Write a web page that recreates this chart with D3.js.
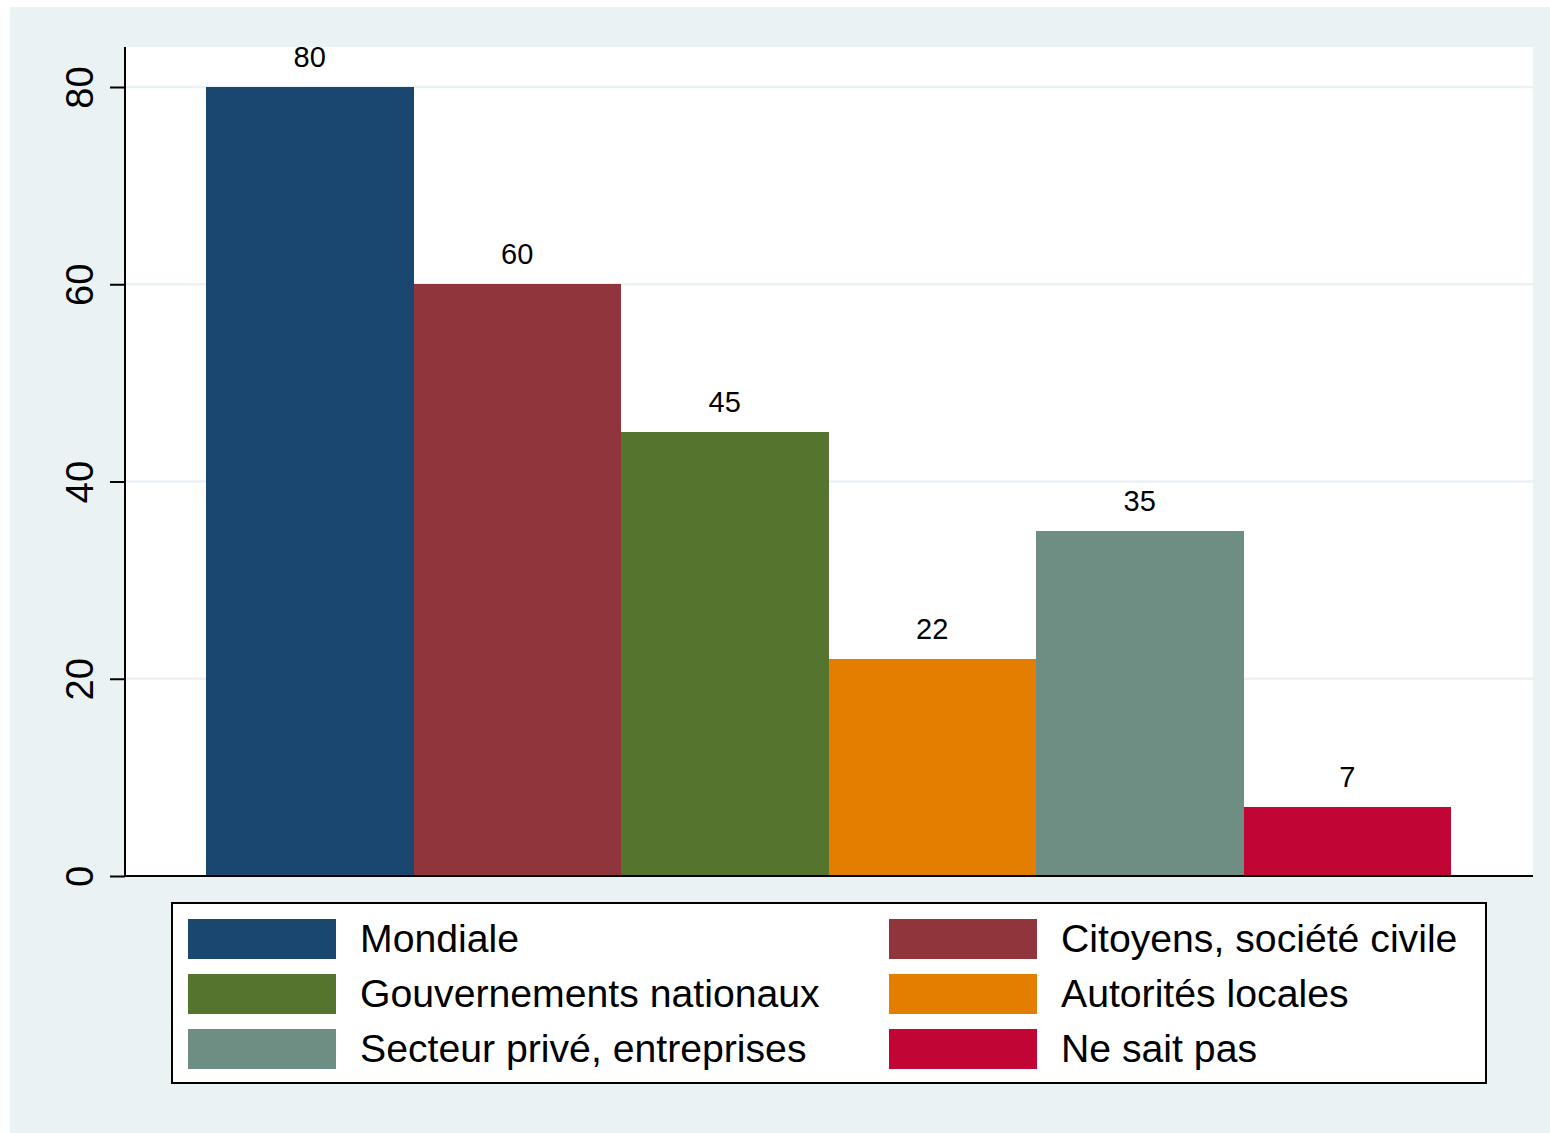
<!DOCTYPE html>
<html>
<head>
<meta charset="utf-8">
<script src="https://cdn.jsdelivr.net/npm/d3@7"></script>
<style>
  html, body { margin: 0; padding: 0; background: #ffffff; }
  svg { display: block; }
  text { font-family: "Liberation Sans", Arial, Helvetica, sans-serif; fill: #000; }
</style>
</head>
<body>
<svg id="chart" width="1550" height="1133"></svg>
<script>
const categories = ["Mondiale", "Citoyens, société civile", "Gouvernements nationaux", "Autorités locales", "Secteur privé, entreprises", "Ne sait pas"];
const values = [80, 60, 45, 22, 35, 7];
const colors = ["#1A476F", "#90353B", "#55752F", "#E37E00", "#6E8E84", "#C10534"];
const yTicks = [0, 20, 40, 60, 80];

const svg = d3.select("#chart");
const bg = "#EAF2F3";

// outer graph region
svg.append("rect").attr("x", 10).attr("y", 7).attr("width", 1540).attr("height", 1126).attr("fill", bg);

const plot = { left: 126, right: 1533, top: 47, bottom: 876 };
svg.append("rect").attr("x", plot.left).attr("y", plot.top)
  .attr("width", plot.right - plot.left).attr("height", plot.bottom - plot.top).attr("fill", "#fff");

const y = d3.scaleLinear().domain([0, 80]).range([876, 87]);
const x = d3.scaleBand().domain(categories).range([206, 1451]).padding(0);

// gridlines
svg.append("g").selectAll("line").data(yTicks.filter(d => d > 0)).join("line")
  .attr("x1", plot.left).attr("x2", plot.right)
  .attr("y1", d => y(d)).attr("y2", d => y(d))
  .attr("stroke", bg).attr("stroke-width", 2.5);

// bars
svg.append("g").attr("shape-rendering", "crispEdges").selectAll("rect").data(categories).join("rect")
  .attr("x", d => Math.round(x(d))).attr("width", d => Math.round(x(d) + x.bandwidth()) - Math.round(x(d)))
  .attr("y", (d, i) => Math.round(y(values[i]))).attr("height", (d, i) => Math.round(y(0)) - Math.round(y(values[i])))
  .attr("fill", (d, i) => colors[i]);

// value labels
svg.append("g").selectAll("text").data(categories).join("text")
  .attr("x", d => x(d) + x.bandwidth() / 2)
  .attr("y", (d, i) => y(values[i]) - 20)
  .attr("text-anchor", "middle").attr("font-size", 29)
  .text((d, i) => values[i]);

// y axis
const yAxis = d3.axisLeft(y).tickValues(yTicks).tickSize(15).tickPadding(0).tickFormat(d3.format("d"));
const gy = svg.append("g").attr("transform", `translate(125,0)`).call(yAxis);
gy.select(".domain").remove();
gy.selectAll(".tick line").attr("stroke", "#000").attr("stroke-width", 2);
gy.selectAll(".tick text")
  .attr("x", 0).attr("dy", 0).attr("y", 0)
  .attr("text-anchor", "middle")
  .attr("transform", "translate(-32,0) rotate(-90)")
  .attr("font-size", 38)
  .style("font-family", '"Liberation Sans", Arial, Helvetica, sans-serif')
  .attr("fill", "#000");
svg.append("line").attr("x1", 125).attr("x2", 125).attr("y1", plot.top).attr("y2", 877)
  .attr("stroke", "#000").attr("stroke-width", 2);
// x axis line
svg.append("line").attr("x1", 124).attr("x2", plot.right).attr("y1", 876).attr("y2", 876)
  .attr("stroke", "#000").attr("stroke-width", 2);

// legend
const lg = svg.append("g");
lg.append("rect").attr("x", 172).attr("y", 903).attr("width", 1314).attr("height", 180)
  .attr("fill", "#fff").attr("stroke", "#000").attr("stroke-width", 2);
const colX = [188, 889];
const rowY = [919, 974, 1029];
categories.forEach((c, i) => {
  const col = i % 2, row = Math.floor(i / 2);
  lg.append("rect").attr("x", colX[col]).attr("y", rowY[row]).attr("width", 148).attr("height", 40)
    .attr("fill", colors[i]);
  lg.append("text").attr("x", colX[col] + 172).attr("y", rowY[row] + 33)
    .attr("font-size", 39.2).text(c);
});
</script>
</body>
</html>
